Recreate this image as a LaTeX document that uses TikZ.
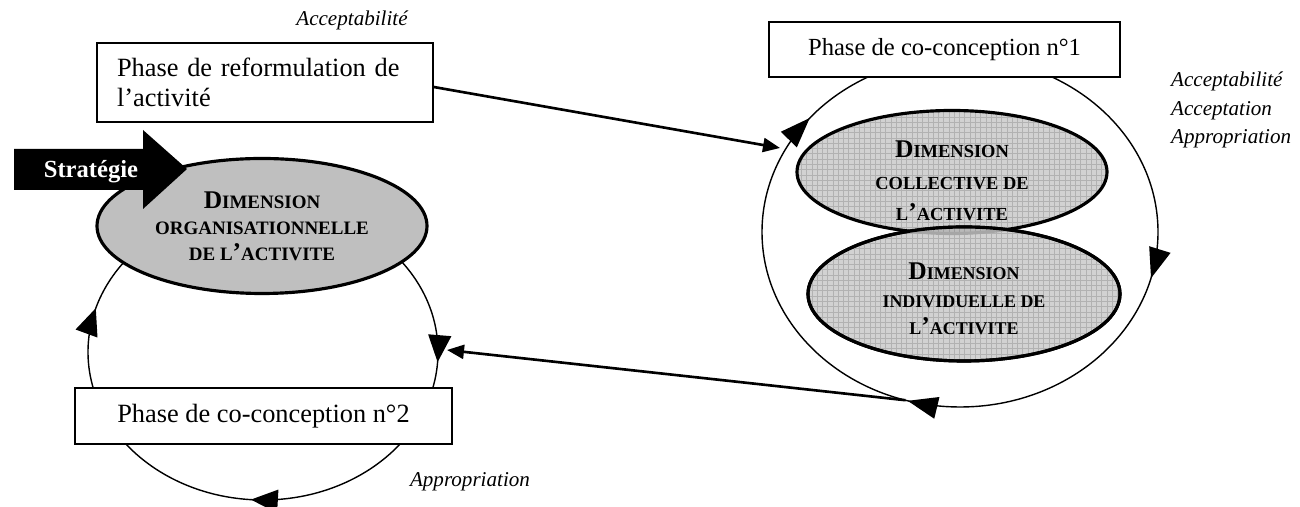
\documentclass[tikz,border=0pt]{standalone}
\usepackage{fontspec}
\setmainfont{Liberation Serif}
\usetikzlibrary{
  arrows.meta,
  positioning,
  calc,
  shapes.geometric,
  decorations.markings,
  patterns
}
\newcommand{\capD}[1]{{\fontsize{14.5}{15}\selectfont #1}}
\tikzset{
  phasebox/.style={
    draw=black,
    line width=0.8pt,
    fill=white,
    inner sep=0pt,
    align=center,
    font=\fontsize{15}{17}\selectfont
  },
  dimorg/.style={
    ellipse,
    draw=black,
    line width=1.8pt,
    fill=gray!50,
    inner sep=0pt,
    align=center,
    font=\bfseries\fontsize{10.8}{14.7}\selectfont
  },
  dimgrid/.style={
    ellipse,
    draw=black,
    line width=1.8pt,
    preaction={fill=gray!35},
    pattern=grid,
    pattern color=gray!60,
    inner sep=0pt
  },
  dimtext/.style={align=center, inner sep=0pt, font=\bfseries\fontsize{10.5}{18}\selectfont},
  loopline/.style={line width=0.8pt, postaction={decorate}},
  lien/.style={line width=1.5pt, -{Triangle[length=0.34cm,width=0.28cm]}},
  note/.style={font=\itshape\fontsize{12}{16.4}\selectfont, align=left}
}

\begin{document}
\begin{tikzpicture}
  \useasboundingbox (0,0) rectangle (26,10.14);
  \coordinate (cL) at (5.26,3.10);
  \coordinate (cR) at (19.2,5.50);

  % cycles
  \draw[loopline, decoration={markings,
      mark=at position 0.26 with {\arrow{Triangle[length=0.54cm,width=0.46cm]}},
      mark=at position 0.512 with {\arrow{Triangle[length=0.54cm,width=0.46cm]}},
      mark=at position 0.794 with {\arrow{Triangle[length=0.54cm,width=0.46cm]}}}]
    ($(cL)+(0,2.96)$) arc[start angle=90, end angle=-270, x radius=3.5, y radius=2.96];
  \draw[loopline, decoration={markings,
      mark=at position 0.29 with {\arrow{Triangle[length=0.6cm,width=0.44cm]}},
      mark=at position 0.545 with {\arrow{Triangle[length=0.6cm,width=0.44cm]}},
      mark=at position 0.858 with {\arrow{Triangle[length=0.6cm,width=0.44cm]}}}]
    ($(cR)+(0,3.5)$) arc[start angle=90, end angle=-270, x radius=3.96, y radius=3.5];

  % dimensions
  \node[dimorg, minimum width=6.6cm, minimum height=2.7cm] (org) at (5.24,5.62)
    {\capD{D}IMENSION\\ORGANISATIONNELLE\\DE L\capD{’}ACTIVITE};
  \node[dimgrid, minimum width=6.2cm, minimum height=2.46cm] (coll) at (19.04,6.70) {};
  \node[dimgrid, minimum width=6.24cm, minimum height=2.68cm] (indiv) at (19.28,4.26) {};
  \begin{scope}
    \clip (indiv.center) ellipse [x radius=3.12cm, y radius=1.34cm];
    \fill[gray!55, postaction={pattern=grid, pattern color=gray!75}]
      (coll.center) ellipse [x radius=3.1cm, y radius=1.23cm];
    \draw[gray!70, line width=1.8pt] (coll.center) ellipse [x radius=3.1cm, y radius=1.23cm];
  \end{scope}
  \draw[line width=1.8pt] (indiv.center) ellipse [x radius=3.12cm, y radius=1.34cm];
  \node[dimtext] (collT) at ([yshift=-0.18cm]coll.center)
    {\capD{D}IMENSION\\COLLECTIVE DE\\L\capD{’}ACTIVITE};
  \node[dimtext, font=\bfseries\fontsize{10.2}{15.6}\selectfont] (indivT) at ([yshift=-0.1cm]indiv.center)
    {\capD{D}IMENSION\\INDIVIDUELLE DE\\L\capD{’}ACTIVITE};

  % phases
  \node[phasebox, align=left, inner xsep=0.4cm, text width=5.92cm, minimum height=1.58cm] (reform) at (5.30,8.49)
    {Phase de reformulation de\\l’activité};
  \node[phasebox, font=\fontsize{14}{16}\selectfont, minimum width=7.02cm, minimum height=1.1cm] (co1) at (18.89,9.15)
    {Phase de co-conception n°1};
  \node[phasebox, minimum width=7.54cm, minimum height=1.12cm] (co2) at (5.27,1.82)
    {Phase de co-conception n°2};

  \node[note] (accT) at (7.04,9.74) {Acceptabilité};
  \node[note, anchor=west] (accR) at (23.3,7.94) {Acceptabilité\\Acceptation\\Appropriation};
  \node[note] (appB) at (9.40,0.50) {Appropriation};

  % strategie
  \fill (0.28,7.16) -- (2.86,7.16) -- (2.86,7.54) -- (3.74,6.76) -- (2.86,5.96) -- (2.86,6.34) -- (0.28,6.34) -- cycle;
  \node[font=\bfseries\fontsize{14}{16}\selectfont, text=white] (strat) at (1.82,6.70) {Stratégie};

  \coordinate (inR) at (15.6,7.18);
  \coordinate (fromR) at ($(cR)+(-106:3.96 and 3.5)$);
  \coordinate (toL) at (8.94,3.14);
  \draw[lien] ($(reform.east)+(0,-0.09)$) -- (inR);
  \draw[lien] (fromR) -- (toL);
\end{tikzpicture}
\end{document}
